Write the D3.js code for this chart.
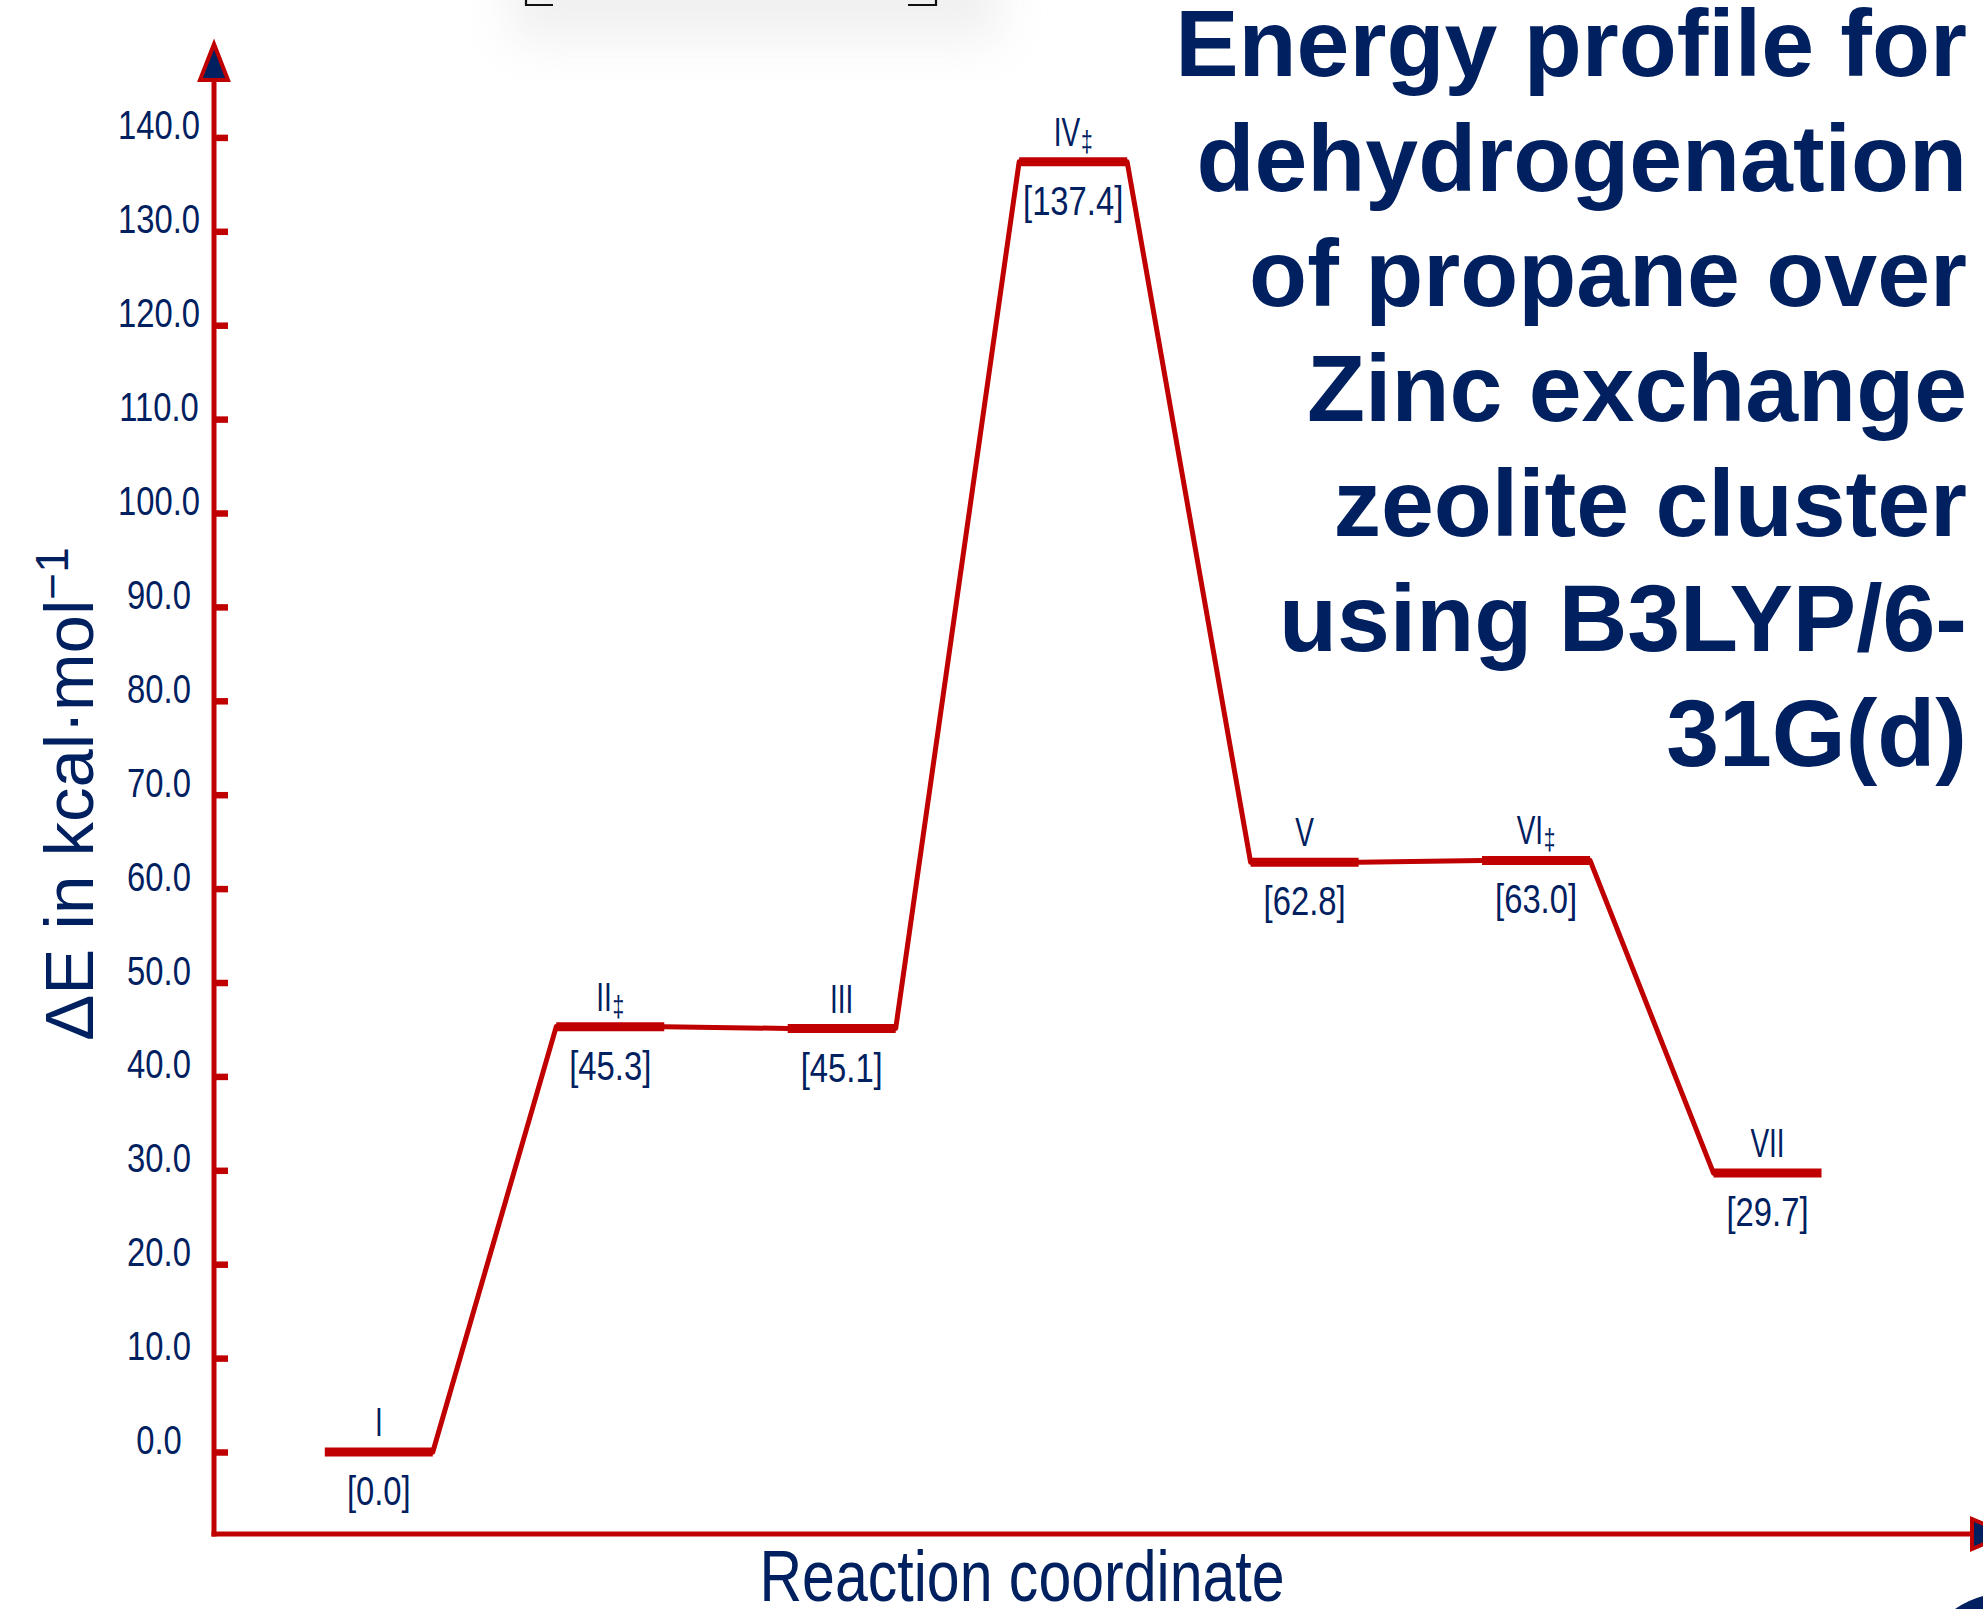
<!DOCTYPE html>
<html>
<head>
<meta charset="utf-8">
<script src="https://cdn.jsdelivr.net/npm/d3@7"></script>
<style>
  html, body { margin: 0; padding: 0; background: #ffffff; }
  svg { display: block; }
</style>
</head>
<body>
<svg id="chart" width="1983" height="1609"></svg>
<script>
// ---------- data ----------
const stateNames = ["I", "II", "III", "IV", "V", "VI", "VII"];
const isTransition = [false, true, false, true, false, true, false];
const energies = [0.0, 45.3, 45.1, 137.4, 62.8, 63.0, 29.7];
const yTicks = [0, 10, 20, 30, 40, 50, 60, 70, 80, 90, 100, 110, 120, 130, 140];
const titleLines = ["Energy profile for", "dehydrogenation", "of propane over",
                    "Zinc exchange", "zeolite cluster", "using B3LYP/6-", "31G(d)"];
const xAxisTitle = "Reaction coordinate";

// ---------- style ----------
const RED = "#c00000";
const NAVY = "#002060";
const SANS = "'Liberation Sans', Arial, sans-serif";
const NARROW_SCALE = 0.82; // emulate a condensed sans face

const svg = d3.select("#chart");
const defs = svg.append("defs");
defs.append("filter").attr("id", "blur").attr("x", "-50%").attr("y", "-50%")
  .attr("width", "200%").attr("height", "200%")
  .append("feGaussianBlur").attr("stdDeviation", 24);

// faint picture shadow + brackets at top (cropped artwork)
svg.append("rect").attr("x", 510).attr("y", -70).attr("width", 490).attr("height", 110)
  .attr("fill", "#d0d0d0").attr("opacity", 0.32).attr("filter", "url(#blur)");
svg.append("path").attr("d", "M526,0 L526,5 L553,5").attr("fill", "none")
  .attr("stroke", "#111").attr("stroke-width", 2.2);
svg.append("path").attr("d", "M908,5 L936,5 L936,0").attr("fill", "none")
  .attr("stroke", "#111").attr("stroke-width", 2.2);

// bottom-right corner shape (cropped artwork)
svg.append("path").attr("d", "M1955,1609 Q1968,1600 1983,1596 L1983,1609 Z").attr("fill", NAVY);

// ---------- scales ----------
const x = d3.scalePoint().domain(d3.range(stateNames.length)).range([378.8, 1767.5]);
const y = d3.scaleLinear().domain([0, 140]).range([1452, 137.4]);
const halfW = 54;
const axisX = 214, axisY = 1534;

function narrowAt(sel, fx, fy, s) {
  const k = s || NARROW_SCALE;
  return sel.attr("transform", (d, i) => `translate(${fx(d, i)},${fy(d, i)}) scale(${k},1)`);
}

// ---------- axes ----------
const yAxis = d3.axisRight(y).tickValues(yTicks).tickSize(14).tickFormat("");
const gY = svg.append("g").attr("transform", `translate(${axisX},0)`).call(yAxis);
gY.select(".domain").remove();
gY.selectAll(".tick line").attr("stroke", RED).attr("stroke-width", 6.5);

narrowAt(svg.append("g").selectAll("text").data(yTicks).join("text"),
    () => 159, d => y(d) + 2)
  .attr("text-anchor", "middle")
  .attr("font-family", SANS).attr("font-size", 40).attr("fill", NAVY)
  .text(d => d3.format(".1f")(d));

// axis lines
svg.append("line").attr("x1", axisX).attr("x2", axisX).attr("y1", axisY + 2.5).attr("y2", 80)
  .attr("stroke", RED).attr("stroke-width", 5);
svg.append("line").attr("x1", axisX - 2.5).attr("x2", 1972).attr("y1", axisY).attr("y2", axisY)
  .attr("stroke", RED).attr("stroke-width", 5);
// arrow heads
svg.append("path").attr("d", `M${axisX},44 L${axisX + 14},80 L${axisX - 14},80 Z`)
  .attr("fill", NAVY).attr("stroke", RED).attr("stroke-width", 4).attr("stroke-linejoin", "miter");
svg.append("path").attr("d", `M2008,${axisY} L1972,${axisY - 15} L1972,${axisY + 15} Z`)
  .attr("fill", NAVY).attr("stroke", RED).attr("stroke-width", 4).attr("stroke-linejoin", "miter");

// ---------- energy profile ----------
const idx = d3.range(stateNames.length);
// connectors
svg.append("g").selectAll("line").data(idx.slice(0, -1)).join("line")
  .attr("x1", i => x(i) + halfW).attr("y1", i => y(energies[i]))
  .attr("x2", i => x(i + 1) - halfW).attr("y2", i => y(energies[i + 1]))
  .attr("stroke", RED).attr("stroke-width", 5).attr("stroke-linecap", "round");
// levels
svg.append("g").selectAll("line").data(idx).join("line")
  .attr("x1", i => x(i) - halfW).attr("x2", i => x(i) + halfW)
  .attr("y1", i => y(energies[i])).attr("y2", i => y(energies[i]))
  .attr("stroke", RED).attr("stroke-width", 9);

// state labels
const nameT = narrowAt(svg.append("g").selectAll("text").data(idx).join("text"),
    i => x(i), i => y(energies[i]) - 16, 0.7)
  .attr("text-anchor", "middle")
  .attr("font-family", SANS).attr("font-size", 40).attr("fill", NAVY);
nameT.append("tspan").text(i => stateNames[i]);
nameT.filter(i => isTransition[i]).append("tspan")
  .attr("font-size", 30).attr("dy", 6).attr("dx", 1).text("\u2021");

// value labels
narrowAt(svg.append("g").selectAll("text").data(idx).join("text"),
    i => x(i), i => y(energies[i]) + 53)
  .attr("text-anchor", "middle")
  .attr("font-family", SANS).attr("font-size", 40).attr("fill", NAVY)
  .text(i => "[" + d3.format(".1f")(energies[i]) + "]");

// ---------- axis titles ----------
svg.append("text").attr("transform", `translate(1022,1601) scale(${NARROW_SCALE},1)`)
  .attr("text-anchor", "middle")
  .attr("font-family", SANS).attr("font-size", 72).attr("fill", NAVY)
  .text(xAxisTitle);

const yl = svg.append("text").attr("transform", "translate(93,794) rotate(-90)")
  .attr("text-anchor", "middle")
  .attr("font-family", SANS).attr("font-size", 69).attr("fill", NAVY);
yl.append("tspan").text("\u0394E in kcal\u00B7mol");
yl.append("tspan").attr("font-size", 46).attr("dy", -25).text("\u22121");

// ---------- title ----------
svg.append("g").selectAll("text").data(titleLines).join("text")
  .attr("x", 1967).attr("y", (d, i) => 76 + i * 115)
  .attr("text-anchor", "end")
  .attr("font-family", SANS).attr("font-weight", "bold").attr("font-size", 95)
  .attr("fill", NAVY)
  .text(d => d);
</script>
</body>
</html>
